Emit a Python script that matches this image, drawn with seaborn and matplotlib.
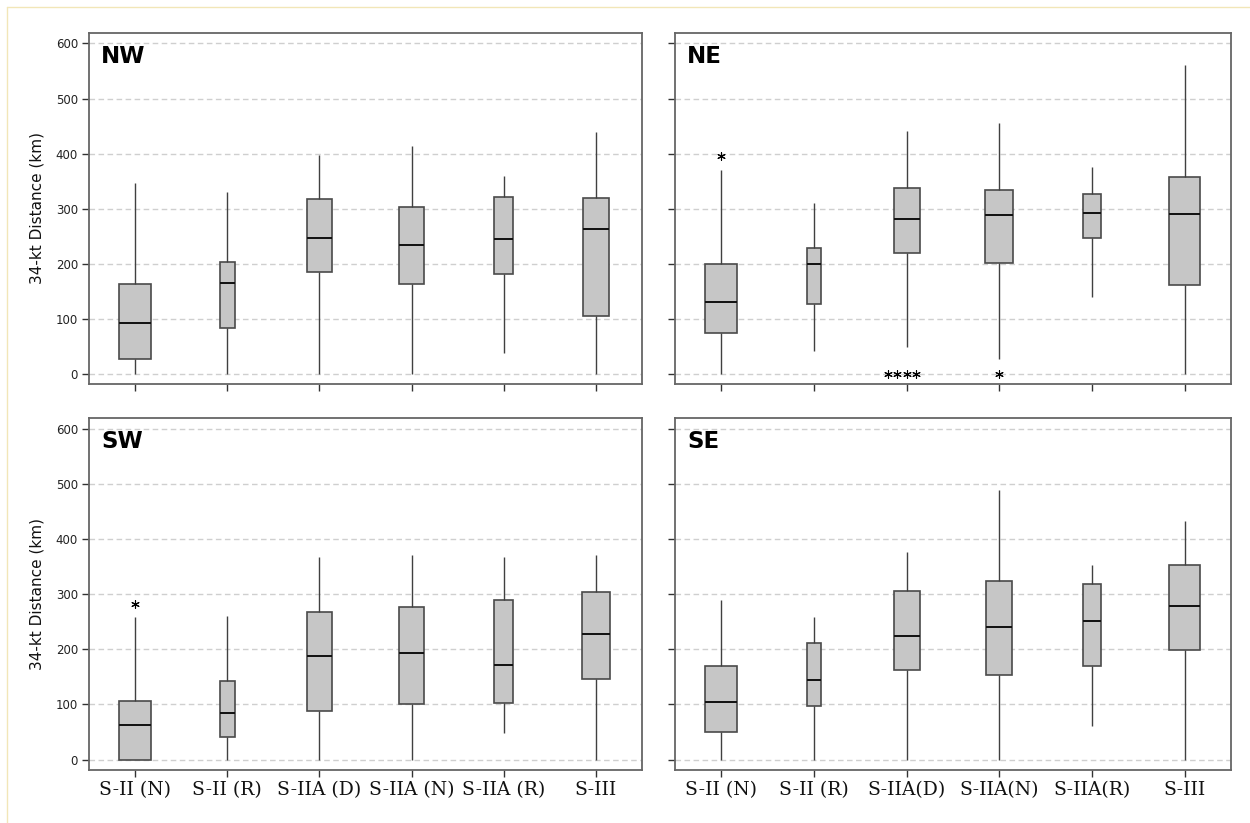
import numpy as np
import pandas as pd
import matplotlib
matplotlib.use('Agg')
import matplotlib.pyplot as plt
from matplotlib.lines import Line2D
import seaborn as sns

# categories (tick labels)
cats = ['S-II (N)', 'S-II (R)', 'S-IIA (D)', 'S-IIA (N)', 'S-IIA (R)', 'S-III']
labels_sw = ['S-II (N)', 'S-II (R)', 'S-IIA (D)', 'S-IIA (N)', 'S-IIA (R)', 'S-III']
labels_se = ['S-II (N)', 'S-II (R)', 'S-IIA(D)', 'S-IIA(N)', 'S-IIA(R)', 'S-III']

# five-number summaries (km)
nw_lo = [0, 0, 0, 0, 38, 0]
nw_q1 = [27, 83, 185, 164, 181, 105]
nw_med = [93, 166, 247, 235, 245, 264]
nw_q3 = [164, 204, 317, 303, 322, 319]
nw_hi = [347, 331, 397, 414, 360, 439]
nw_out_cat = []
nw_out_val = []

ne_lo = [0, 42, 50, 28, 140, 0]
ne_q1 = [74, 128, 220, 201, 247, 162]
ne_med = [131, 199, 282, 288, 292, 290]
ne_q3 = [199, 228, 338, 334, 327, 358]
ne_hi = [370, 311, 441, 455, 376, 561]
ne_out_cat = ['S-II (N)', 'S-IIA (D)', 'S-IIA (D)', 'S-IIA (D)', 'S-IIA (D)', 'S-IIA (N)']
ne_out_val = [396, 0, 0, 0, 0, 0]

sw_lo = [0, 0, 0, 0, 48, 0]
sw_q1 = [0, 41, 89, 101, 103, 146]
sw_med = [62, 85, 188, 194, 172, 228]
sw_q3 = [106, 143, 268, 276, 289, 305]
sw_hi = [258, 260, 367, 371, 367, 371]
sw_out_cat = ['S-II (N)']
sw_out_val = [283]

se_lo = [0, 0, 0, 0, 61, 0]
se_q1 = [50, 97, 162, 153, 169, 198]
se_med = [104, 145, 225, 240, 252, 279]
se_q3 = [170, 211, 306, 324, 318, 353]
se_hi = [289, 258, 376, 490, 354, 433]
se_out_cat = []
se_out_val = []

# box widths (proportional to sample size in the original)
nw_w = [0.34, 0.16, 0.28, 0.28, 0.21, 0.29]
ne_w = [0.345, 0.15, 0.28, 0.30, 0.20, 0.33]
sw_w = [0.35, 0.16, 0.28, 0.28, 0.21, 0.31]
se_w = [0.345, 0.15, 0.28, 0.28, 0.20, 0.34]

sns.set_theme(style='ticks')
plt.rcParams['font.family'] = ['DejaVu Sans']

fig = plt.figure(figsize=(12.5, 8.23), dpi=100)

W, H = 1250, 823
def px_axes(x0, y0, x1, y1):
    return fig.add_axes([x0 / W, 1 - y1 / H, (x1 - x0) / W, (y1 - y0) / H])

panels = [
    ('NW', px_axes(89, 33, 642, 384), nw_lo, nw_q1, nw_med, nw_q3, nw_hi, nw_w, nw_out_cat, nw_out_val, None, True, (-18, 619)),
    ('NE', px_axes(675, 33, 1231, 384), ne_lo, ne_q1, ne_med, ne_q3, ne_hi, ne_w, ne_out_cat, ne_out_val, None, False, (-18, 619)),
    ('SW', px_axes(89, 418, 642, 770), sw_lo, sw_q1, sw_med, sw_q3, sw_hi, sw_w, sw_out_cat, sw_out_val, labels_sw, True, (-19, 620)),
    ('SE', px_axes(675, 418, 1231, 770), se_lo, se_q1, se_med, se_q3, se_hi, se_w, se_out_cat, se_out_val, labels_se, False, (-19, 620)),
]

for name, ax, lo, q1, med, q3, hi, widths, out_cat, out_val, xlabels, left, ylim in panels:
    ax.set_axisbelow(True)
    ax.yaxis.grid(True, linestyle=(0, (4, 2.5)), color='#cfcfcf', linewidth=1)
    for i, cat in enumerate(cats):
        df = pd.DataFrame({'cat': cat, 'km': [lo[i], q1[i], med[i], q3[i], hi[i]]})
        sns.boxplot(data=df, x='cat', y='km', order=cats, ax=ax,
                    width=widths[i], whis=(0, 100), showcaps=False,
                    color='#c6c6c6', saturation=1, linecolor='#4a4a4a',
                    linewidth=1.2,
                    whiskerprops=dict(linewidth=1.0, color='#404040'),
                    medianprops=dict(linewidth=1.4, color='#111111'))
    if out_val:
        dfo = pd.DataFrame({'cat': out_cat, 'km': out_val})
        sns.swarmplot(data=dfo, x='cat', y='km', order=cats, ax=ax,
                      marker=(6, 2, 0), size=5.5, color='black',
                      edgecolor='black', linewidth=0.8)
    ax.set_xlim(-0.5, 5.5)
    ax.set_ylim(*ylim)
    ax.set_yticks([0, 100, 200, 300, 400, 500, 600])
    ax.set_xticks(range(len(cats)))
    ax.set_xlabel('')
    if xlabels is None:
        ax.set_xticklabels([])
    else:
        ax.set_xticklabels(xlabels, family='DejaVu Serif', fontsize=13.5, color='#111111')
    if left:
        ax.set_ylabel('34-kt Distance (km)', fontsize=11, color='#111111', labelpad=8)
        ax.tick_params(axis='y', labelsize=8.5, labelcolor='#222222')
    else:
        ax.set_ylabel('')
        ax.set_yticklabels([])
    ax.tick_params(axis='both', direction='out', length=5, width=1, color='#333333', pad=3)
    for sp in ax.spines.values():
        sp.set_visible(True)
        sp.set_color('#666666')
        sp.set_linewidth(1.3)
    ax.text(0.022, 0.965, name, transform=ax.transAxes, ha='left', va='top',
            fontsize=16.5, fontweight='bold', color='black')

# faint frame around the figure
fig.add_artist(Line2D([7 / W, 1], [1 - 7 / H, 1 - 7 / H], color='#f2e6b8', linewidth=1))
fig.add_artist(Line2D([7 / W, 7 / W], [0, 1 - 7 / H], color='#f2e6b8', linewidth=1))

fig.savefig('out.png', dpi=100, facecolor='white')
